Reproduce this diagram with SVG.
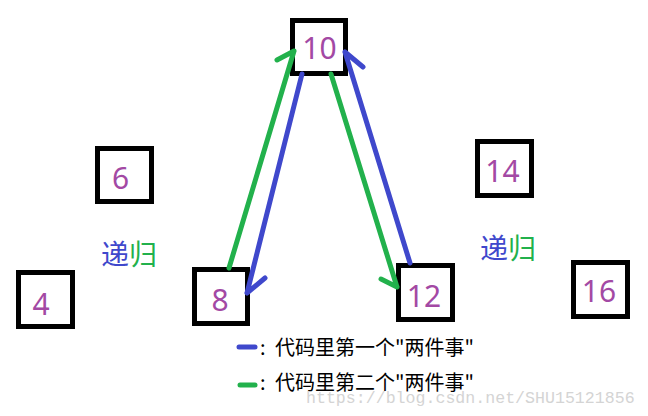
<svg xmlns="http://www.w3.org/2000/svg" width="648" height="416" viewBox="0 0 648 416">
<style>
.box{fill:#fff;stroke:#000;stroke-width:5}
.num{font-family:"Noto Sans","Liberation Sans",sans-serif;font-size:30px;fill:#a349a4;text-anchor:middle}
.blue{stroke:#3f48cc;stroke-width:5;fill:none;stroke-linecap:round;stroke-linejoin:round}
.green{stroke:#22b14c;stroke-width:5;fill:none;stroke-linecap:round;stroke-linejoin:round}
.rec{font-family:"Noto Sans CJK SC",sans-serif;font-size:28px}
.leg{font-family:"Noto Sans CJK SC",sans-serif;font-size:20px;fill:#000}
.wm{font-family:"Liberation Mono",monospace;font-size:16.6px;fill:#d4d4d4}
</style>
<rect width="648" height="416" fill="#fff"/>
<g id="node10"><rect class="box" x="292.5" y="20.5" width="53" height="53"/><text class="num" x="319.5" y="59">10</text></g>
<g id="node6"><rect class="box" x="97.5" y="148.5" width="54" height="53"/><text class="num" x="120.5" y="189">6</text></g>
<g id="node4"><rect class="box" x="18.5" y="272.5" width="54" height="54"/><text class="num" x="41" y="315">4</text></g>
<g id="node8"><rect class="box" x="194.5" y="269.5" width="53" height="54"/><text class="num" x="220" y="311">8</text></g>
<g id="node12"><rect class="box" x="398.5" y="265.5" width="54" height="54"/><text class="num" x="424" y="307">12</text></g>
<g id="node14"><rect class="box" x="477.5" y="141.5" width="54" height="54"/><text class="num" x="502.5" y="182">14</text></g>
<g id="node16"><rect class="box" x="573.5" y="262.5" width="54" height="54"/><text class="num" x="599" y="302">16</text></g>
<g id="connectors">
<path class="green" d="M229,268 L294,51 M294,51 L277,60"/>
<path class="blue" d="M302,74 L247,293 M247,293 L265,278"/>
<path class="green" d="M331,74 L397,287 M397,287 L381,279"/>
<path class="blue" d="M410,263 L345,52 M345,52 L363,67"/>
</g>
<g id="label-left"><text class="rec" x="101" y="265"><tspan fill="#3f48cc">递</tspan><tspan fill="#22b14c">归</tspan></text></g>
<g id="label-right"><text class="rec" x="480" y="259"><tspan fill="#3f48cc">递</tspan><tspan fill="#22b14c">归</tspan></text></g>
<g id="legend">
<line class="blue" x1="239" y1="347" x2="255" y2="347"/>
<text class="leg" y="355"><tspan x="260">:</tspan><tspan x="275">代码里第一个"两件事"</tspan></text>
<line class="green" x1="240" y1="385" x2="255" y2="385"/>
<text class="leg" y="390"><tspan x="260">:</tspan><tspan x="275">代码里第二个"两件事"</tspan></text>
</g>
<text class="wm" x="306" y="403">https://blog.csdn.net/SHU15121856</text>
</svg>
